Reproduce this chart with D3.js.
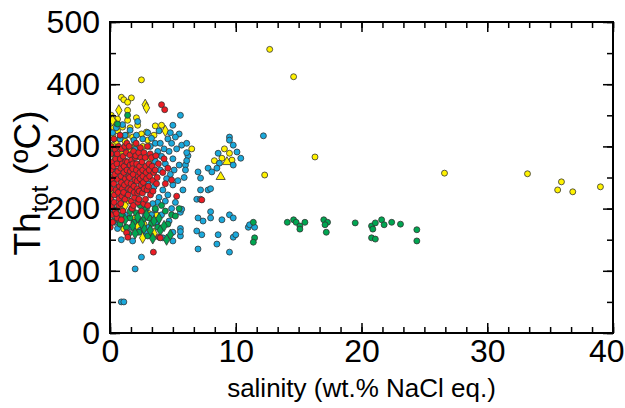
<!DOCTYPE html>
<html>
<head>
<meta charset="utf-8">
<script src="https://cdn.jsdelivr.net/npm/d3@7"></script>
<style>
  body { margin: 0; background: #fff; }
  text { font-family: "Liberation Sans", Arial, sans-serif; fill: #000; }
</style>
</head>
<body>
<svg id="chart" width="625" height="408"></svg>
<script>
// salinity (wt.% NaCl eq.), Th (degC)
var redCircles = [
  [0.05,232],[0.1,262],[0.08,288],[0.12,205],[0.15,248],[0.06,215],[0.18,275],[0.1,300],[0.02,170],[0.14,190],
  [0.3,240],[0.35,222],[0.28,268],[0.42,295],[0.38,255],[0.33,210],[0.45,280],[0.4,196],[0.31,312],[0.47,230],
  [0.6,247],[0.55,272],[0.66,226],[0.58,288],[0.7,205],[0.62,260],[0.75,236],[0.68,300],[0.72,216],[0.57,185],
  [0.85,265],[0.9,242],[0.82,280],[0.95,220],[0.88,252],[0.92,296],[0.98,232],[0.86,208],[0.97,272],[0.8,318],
  [1.1,258],[1.15,238],[1.05,284],[1.2,215],[1.12,268],[1.18,300],[1.08,226],[1.22,248],[1.02,196],[1.25,276],
  [1.35,262],[1.4,242],[1.3,290],[1.45,222],[1.38,275],[1.32,161],[1.42,154],[1.48,252],[1.34,305],[1.47,232],
  [1.6,270],[1.55,250],[1.65,230],[1.58,286],[1.7,212],[1.62,260],[1.68,240],[1.52,300],[1.72,278],[1.75,200],
  [1.85,255],[1.9,236],[1.82,272],[1.95,218],[1.88,292],[1.98,246],[1.8,264],[1.92,226],[2.0,282],[1.86,205],
  [2.1,262],[2.15,244],[2.05,285],[2.2,225],[2.12,272],[2.25,252],[2.08,305],[2.18,232],[2.22,210],[2.28,290],
  [2.35,268],[2.4,248],[2.32,228],[2.45,282],[2.38,258],[2.48,238],[2.42,298],[2.3,215],
  [2.6,262],[2.55,275],[2.65,242],[2.58,225],[2.7,290],[2.62,252],[2.72,232],[2.68,208],
  [2.85,268],[2.9,248],[2.8,282],[2.95,230],[2.88,258],[2.98,300],[2.82,215],
  [3.1,272],[3.15,252],[3.05,236],[3.2,288],[3.12,262],[3.22,222],
  [3.35,268],[3.4,245],[3.3,282],[3.45,130],[3.42,228],[3.48,258],
  [3.6,262],[3.7,240],[3.65,285],[3.75,250],[3.9,154],[4.0,153],[3.85,272],
  [4.1,367],[4.35,359],[4.2,258],[4.4,240],[4.3,280],[4.6,265],[5.3,220],[7.3,214],[4.9,246],
  [0.2,178],[0.5,192],[0.9,182],[2.5,196],[3.0,205]
];

var blueCircles = [
  [0.2,322],[0.5,330],[0.8,312],[1.2,318],[1.6,326],[2.1,318],[2.6,312],[3.0,322],[3.3,313],[3.6,305],
  [4.0,305],[4.3,296],[4.6,312],[4.9,305],[5.0,334],[5.6,350],[5.7,302],
  [0.3,290],[0.9,276],[1.5,266],[2.0,295],[2.7,283],[3.2,300],[3.8,292],[4.1,284],[4.4,272],[4.7,292],
  [5.0,280],[5.3,296],[5.5,270],[5.1,262],[4.8,255],[4.5,248],[4.2,230],[4.6,222],[5.0,238],[5.4,245],
  [5.2,210],[4.9,200],[4.4,212],[3.9,218],[3.6,198],[4.1,190],[4.7,180],[5.0,162],[5.0,148],[5.6,156],
  [4.2,153],[3.7,178],[3.3,190],[2.8,188],[2.2,182],[1.8,148],[0.9,150],[2.5,122],[2.0,103],[0.9,50],
  [1.1,50],[0.4,178],[0.2,200],[1.2,190],[1.7,170],[0.6,168],[2.4,165],[3.1,170],[2.9,160],[5.6,194],
  [5.8,230],[6.0,270],[5.9,250],[5.5,320],[6.1,305],[6.2,285],[6.0,262],[6.1,290],[6.1,277],
  [7.0,259],[7.2,249],[7.8,265],[8.1,259],[8.6,289],[8.7,273],[8.5,265],[9.5,315],[9.5,310],[9.8,302],
  [10.1,291],[10.4,281],[9.8,270],[12.2,317],
  [7.2,230],[7.8,230],[8.0,232],[6.9,215],[7.2,215],[5.7,199],[8.0,195],[8.0,185],[7.0,185],[7.4,180],
  [8.9,182],[9.5,190],[9.8,185],[6.9,164],[7.3,158],[8.6,158],[9.8,154],[10.0,158],[7.0,135],[8.5,143],
  [9.5,130],[11.0,170],[11.1,174],[11.5,170],[5.6,168],[5.6,163],
  [0.5,260],[1.0,245],[1.4,300],[1.9,310],[2.3,270],[2.6,228],[3.0,240],[3.5,235],[3.8,210],[1.3,225],
  [0.7,235],[2.9,200],[3.4,208],[4.0,262],[3.6,276],[2.2,340],[1.0,335],[3.9,325],[4.8,322],[5.2,315]
];

var yellowCircles = [
  [12.7,456],[14.6,412],[16.3,283],[12.3,254],[26.6,257],[33.2,256],[35.9,243],[35.6,230],[36.8,227],[39.0,235],
  [2.5,407],[0.9,379],[1.1,375],[1.7,378],[1.4,371],[1.4,358],[2.1,346],[0.6,344],[1.4,342],[1.0,331],
  [1.6,330],[2.2,334],[3.6,333],[4.1,334],[2.9,323],[2.5,320],[0.2,318],[0.8,313],[0.3,330],[0.5,305],
  [1.2,308],[1.8,315],[2.0,300],[0.1,296],[0.4,282],[0.2,268],[3.0,310],[3.5,318],[0.1,350],[0.3,340],
  [0.6,325],[1.3,318],[2.6,300],[0.2,302],[1.9,290],[2.4,285],
  [6.5,296],[9.1,296],[9.5,289],[8.9,281],[8.3,277],[9.7,278],
  [1.1,167],[0.4,195],[0.8,205],[1.5,212],[2.0,185],[3.1,192],[0.3,225],[1.8,198],[2.7,175],[3.7,190],[0.1,250]
];

var yellowDiamonds = [
  [2.8,367],[2.9,362],[0.7,358],[0.2,342],[4.4,325],[2.6,153],[2.0,305],[1.5,296],[0.9,290],[3.2,280],
  [1.2,205],[2.2,172],[3.5,160]
];

var yellowTriangles = [[9.3,275],[8.8,251]];

var greenCircles = [
  [11.4,178],[11.5,153],[11.4,146],[14.1,178],[14.6,182],[14.8,178],[15.1,172],[15.1,167],[15.5,178],
  [17.0,182],[17.3,178],[17.1,174],[17.2,162],[19.5,177],[20.8,172],[20.9,167],[21.1,177],[21.6,182],
  [21.8,174],[22.4,178],[23.1,175],[20.8,153],[21.1,151],[24.4,166],[24.4,148],
  [0.6,336],[1.4,350],[0.5,198],[0.9,190],[1.6,185],[2.1,193],[2.4,205],[2.8,198],[3.1,185],[3.6,200],
  [4.1,205],[4.4,196],[4.9,190],[0.8,175],[1.3,170],[1.9,178],[2.6,182],[3.3,176],[3.8,170],[4.6,175],
  [1.5,160],[2.3,162],[3.0,156],[0.3,180],[5.2,188],[5.5,200]
];

var greenDiamonds = [
  [1.2,182],[1.8,172],[2.2,186],[2.7,168],[3.2,165],[3.5,180],[4.0,165],[4.3,172],[2.5,176],[1.6,196],
  [2.9,190],[3.9,184],[2.0,160],[4.8,158],[3.4,152],[4.5,150]
];

var xTicks = [0, 10, 20, 30, 40];
var yTicks = [0, 100, 200, 300, 400, 500];

var margin = {top: 22, right: 12, bottom: 75, left: 110}
  , width = 625 - margin.left - margin.right
  , height = 408 - margin.top - margin.bottom;

var svg = d3.select("#chart");

var x = d3.scaleLinear().domain([0, 40]).range([0, width]);
var y = d3.scaleLinear().domain([0, 500]).range([height, 0]);

var g = svg.append("g").attr("transform", "translate(" + margin.left + "," + margin.top + ")");

g.append("clipPath").attr("id", "clip")
  .append("rect").attr("width", width).attr("height", height);

var pts = g.append("g").attr("clip-path", "url(#clip)");

var COLORS = {yellow: "#fff200", blue: "#1aa9dc", red: "#ec1c24", green: "#00a651"};

function drawSymbol(data, type, color, size) {
  pts.append("g").selectAll("path")
    .data(data)
   .enter().append("path")
    .attr("transform", function(d) { return "translate(" + x(d[0]) + "," + y(d[1]) + ")"; })
    .attr("d", d3.symbol().type(type).size(size))
    .style("fill", color)
    .style("stroke", "#333")
    .style("stroke-width", 0.8);
}

drawSymbol(yellowCircles, d3.symbolCircle, COLORS.yellow, 28);
drawSymbol(yellowDiamonds, d3.symbolDiamond, COLORS.yellow, 36);
drawSymbol(yellowTriangles, d3.symbolTriangle, COLORS.yellow, 36);
drawSymbol(blueCircles, d3.symbolCircle, COLORS.blue, 28);
drawSymbol(greenCircles, d3.symbolCircle, COLORS.green, 28);
drawSymbol(greenDiamonds, d3.symbolDiamond, COLORS.green, 36);
drawSymbol(redCircles, d3.symbolCircle, COLORS.red, 28);

// axes: ticks pointing inward on all four sides
var xMinor = d3.range(0, 40.001, 10 / 6);
var yMinor = d3.range(0, 500.001, 50);

g.append("g").attr("transform", "translate(0," + height + ")")
  .call(d3.axisBottom(x).tickValues(xMinor).tickSize(-6).tickFormat(""));
var xLab = g.append("g").attr("class", "lab").attr("transform", "translate(0," + height + ")")
  .call(d3.axisBottom(x).tickValues(xTicks).tickSize(-10).tickPadding(6).tickFormat(d3.format("d")));
g.append("g")
  .call(d3.axisTop(x).tickValues(xMinor).tickSize(-6).tickFormat(""));
g.append("g")
  .call(d3.axisTop(x).tickValues(xTicks).tickSize(-10).tickFormat(""));

g.append("g")
  .call(d3.axisLeft(y).tickValues(yMinor).tickSize(-6).tickFormat(""));
g.append("g").attr("class", "lab")
  .call(d3.axisLeft(y).tickValues(yTicks).tickSize(-10).tickPadding(10).tickFormat(d3.format("d")));
g.append("g").attr("transform", "translate(" + width + ",0)")
  .call(d3.axisRight(y).tickValues(yMinor).tickSize(-6).tickFormat(""));
g.append("g").attr("transform", "translate(" + width + ",0)")
  .call(d3.axisRight(y).tickValues(yTicks).tickSize(-10).tickFormat(""));

g.selectAll(".domain").remove();
g.selectAll(".tick line").style("stroke", "#000").style("stroke-width", 1.5);
g.selectAll(".lab .tick text")
  .style("font-size", "32px")
  .style("font-family", "'Liberation Sans', Arial, sans-serif");

// last x label pulled in so it stays inside the page
xLab.selectAll(".tick text").filter(function(d) { return d === 40; })
  .attr("text-anchor", "end").attr("x", 11);

g.append("rect")
  .attr("width", width).attr("height", height)
  .style("fill", "none").style("stroke", "#000").style("stroke-width", 2);

svg.append("text")
  .attr("x", margin.left + width / 2)
  .attr("y", 397)
  .attr("text-anchor", "middle")
  .style("font-size", "26px")
  .text("salinity (wt.% NaCl eq.)");

var yt = svg.append("text")
  .attr("transform", "translate(40," + 183 + ") rotate(-90)")
  .attr("text-anchor", "middle")
  .style("font-size", "37px");
yt.append("tspan").text("Th");
yt.append("tspan").attr("dy", 8).style("font-size", "24px").text("tot");
yt.append("tspan").attr("dy", -8).text(" (ºC)");
</script>
</body>
</html>
